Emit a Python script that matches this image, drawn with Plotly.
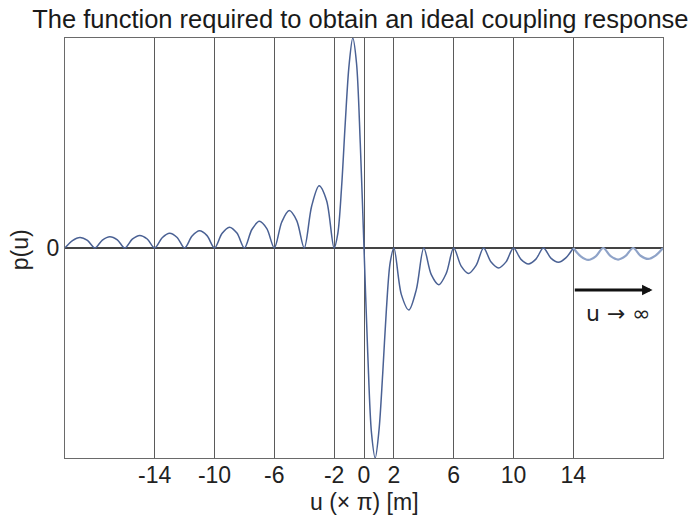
import plotly.graph_objects as go

# ---- data ----
u_vals = [
    -20, -19.5, -19, -18.5, -18, -17.5, -17, -16.5, -16, -15.5, -15, -14.5, -14,
    -13.5, -13, -12.5, -12, -11.5, -11, -10.5, -10, -9.5, -9, -8.5, -8,
    -7.5, -7, -6.5, -6, -5.5, -5, -4.5, -4, -3.5, -3, -2.5, -2,
    -1.75, -1.5, -1.25, -1.0, -0.75, -0.5, -0.25, 0,
    0.25, 0.5, 0.75, 1.0, 1.25, 1.5, 1.75, 2,
    2.5, 3, 3.5, 4, 4.5, 5, 5.5, 6, 6.5, 7, 7.5, 8,
    8.5, 9, 9.5, 10, 10.5, 11, 11.5, 12, 12.5, 13, 13.5, 14,
    14.5, 15, 15.5, 16, 16.5, 17, 17.5, 18, 18.5, 19, 19.5, 20,
]
p_vals = [
    0.0, 0.035, 0.050, 0.036, 0.0, 0.038, 0.054, 0.039, 0.0, 0.042, 0.060, 0.043, 0.0,
    0.049, 0.070, 0.050, 0.0, 0.057, 0.082, 0.059, 0.0, 0.069, 0.099, 0.071, 0.0,
    0.088, 0.127, 0.092, 0.0, 0.124, 0.178, 0.130, 0.0, 0.200, 0.296, 0.225, 0.0,
    0.07, 0.29, 0.60, 0.87, 1.00, 0.88, 0.50, 0.0,
    -0.50, -0.88, -1.00, -0.87, -0.60, -0.29, -0.07, 0.0,
    -0.222, -0.295, -0.198, 0.0, -0.127, -0.175, -0.121, 0.0, -0.086, -0.121, -0.083, 0.0,
    -0.067, -0.095, -0.066, 0.0, -0.054, -0.076, -0.053, 0.0, -0.048, -0.068, -0.047, 0.0,
    -0.040, -0.057, -0.040, 0.0, -0.039, -0.055, -0.038, 0.0, -0.037, -0.052, -0.036, 0.0,
]
grid_ticks = [-14, -10, -6, -2, 0, 2, 6, 10, 14]
grid_labels = ["-14", "-10", "-6", "-2", "0", "2", "6", "10", "14"]

FONT = "Liberation Sans, Arial, sans-serif"
split = u_vals.index(14)

fig = go.Figure()
fig.add_trace(go.Scatter(
    x=u_vals[:split + 1], y=p_vals[:split + 1], mode="lines",
    line=dict(color="#4a6194", width=1.5, shape="spline", smoothing=0.9),
    showlegend=False, hoverinfo="skip"))
fig.add_trace(go.Scatter(
    x=u_vals[split:], y=p_vals[split:], mode="lines",
    line=dict(color="#8fa3c8", width=2.2, shape="spline", smoothing=0.9),
    showlegend=False, hoverinfo="skip"))

# arrow u -> infinity
fig.add_annotation(x=19.3, y=-0.2, ax=14, ay=-0.2, xref="x", yref="y",
                   axref="x", ayref="y", text="", showarrow=True,
                   arrowhead=2, arrowsize=0.7, arrowwidth=3, arrowcolor="#111")
fig.add_annotation(x=17.0, y=-0.31, xref="x", yref="y", text="u \u2192 \u221e",
                   showarrow=False,
                   font=dict(family="DejaVu Sans, sans-serif", size=22, color="#222"))

# axis titles as annotations
fig.add_annotation(x=-0.075, y=0.495, xref="paper", yref="paper", text="p(u)",
                   textangle=-90, showarrow=False, xanchor="center", yanchor="middle",
                   font=dict(family=FONT, size=23, color="#222"))
fig.add_annotation(x=0.5, y=-0.105, xref="paper", yref="paper",
                   text="u (\u00d7 \u03c0) [m]", showarrow=False,
                   xanchor="center", yanchor="middle",
                   font=dict(family=FONT, size=23, color="#222"))

fig.update_layout(
    width=689, height=516,
    margin=dict(l=65, r=26, t=38, b=58),
    paper_bgcolor="white", plot_bgcolor="white",
    title=dict(text="The function required to obtain an ideal coupling response",
               x=0.523, xanchor="center", y=0.963, yanchor="middle",
               font=dict(family=FONT, size=25.5, color="#1a1a1a")),
    font=dict(family=FONT, size=23, color="#222"),
)
fig.update_xaxes(range=[-20, 20], tickmode="array", tickvals=grid_ticks,
                 ticktext=grid_labels, showgrid=True, gridcolor="#5a5a5a",
                 gridwidth=1, zeroline=False, showline=True, linecolor="#6a6a6a",
                 linewidth=1, mirror=True, ticks="", ticklabelstandoff=-4,
                 tickfont=dict(family=FONT, size=23, color="#222"))
fig.update_yaxes(range=[-1.0, 1.0], tickmode="array", tickvals=[0],
                 ticktext=["0"], showgrid=True, gridcolor="#444", gridwidth=1.5,
                 zeroline=False, showline=True, linecolor="#6a6a6a",
                 linewidth=1, mirror=True, ticks="",
                 tickfont=dict(family=FONT, size=23, color="#222"))

fig.write_html("out.html")
